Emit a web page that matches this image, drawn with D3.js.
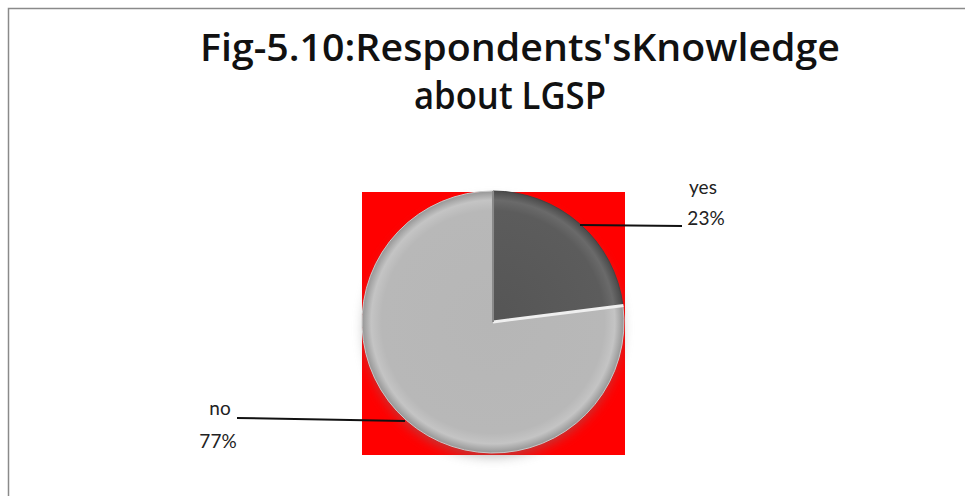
<!DOCTYPE html>
<html><head><meta charset="utf-8">
<script src="https://cdn.jsdelivr.net/npm/d3@7"></script>
<style>html,body{margin:0;padding:0;background:#fff;}</style>
</head><body>
<script>
const titleLines = ["Fig-5.10:Respondents'sKnowledge", "about LGSP"];
const categories = ["yes", "no"];
const values = [23, 77];
const percentLabels = ["23%", "77%"];

const W = 965, H = 496;
const svg = d3.select("body").append("svg").attr("width", W).attr("height", H);
const defs = svg.append("defs");

// border
svg.append("rect").attr("x", 8.5).attr("y", 8.5).attr("width", W).attr("height", H)
  .attr("fill", "#fff").attr("stroke", "#8a8a8a").attr("stroke-width", 1.5);

// title
svg.append("text").attr("x", 520).attr("y", 61).attr("text-anchor", "middle")
  .attr("font-family", "Open Sans, sans-serif").attr("font-weight", 600).attr("font-size", 37)
  .attr("textLength", 640).attr("lengthAdjust", "spacingAndGlyphs")
  .attr("fill", "#111").text(titleLines[0]);
svg.append("text").attr("x", 510).attr("y", 109).attr("text-anchor", "middle")
  .attr("font-family", "Open Sans, sans-serif").attr("font-weight", 600).attr("font-size", 37)
  .attr("textLength", 192).attr("lengthAdjust", "spacingAndGlyphs")
  .attr("fill", "#111").text(titleLines[1]);

const cx = 493, cy = 322, r = 131;

// shadow filter
const f = defs.append("filter").attr("id", "shadow").attr("x", "-20%").attr("y", "-20%").attr("width", "140%").attr("height", "150%");
f.append("feGaussianBlur").attr("in", "SourceGraphic").attr("stdDeviation", 6);

// gradients (in the pie group's local coordinates)
function grad(id, stops) {
  const g = defs.append("radialGradient").attr("id", id)
    .attr("gradientUnits", "userSpaceOnUse").attr("cx", 0).attr("cy", 0).attr("r", r);
  stops.forEach(s => g.append("stop").attr("offset", s[0]).attr("stop-color", s[1]));
}
grad("gYes", [["0%", "#555"], ["85%", "#5c5c5c"], ["93%", "#6a6a6a"], ["100%", "#4a4a4a"]]);
grad("gNo", [["0%", "#b6b6b6"], ["85%", "#b8b8b8"], ["93%", "#c4c4c4"], ["100%", "#969696"]]);

// red plot area (square)
svg.append("rect").attr("x", 362).attr("y", 192).attr("width", 263).attr("height", 263).attr("fill", "#ff0000");

const pie = d3.pie().sort(null).value(d => d)(values);
const arc = d3.arc().innerRadius(0).outerRadius(r);
const g = svg.append("g").attr("transform", `translate(${cx},${cy})`);
g.append("circle").attr("cy", 6).attr("r", r - 2).attr("fill", "#7a7a7a").attr("filter", "url(#shadow)").attr("opacity", 0.5);
g.selectAll("path.slice").data(pie).enter().append("path").attr("class", "slice")
  .attr("d", arc).attr("fill", (d, i) => i === 0 ? "url(#gYes)" : "url(#gNo)")
  .attr("stroke", (d, i) => i === 0 ? "#444" : "#c9c9c9").attr("stroke-width", 1)
  .attr("stroke-linejoin", "round");
// bevel highlight along the separating edge
const sepEnd = d3.arc().innerRadius(0).outerRadius(r - 1);
g.append("path").attr("d", sepEnd({startAngle: pie[1].startAngle, endAngle: pie[1].startAngle + 0.0005}))
  .attr("fill", "none").attr("stroke", "#efefef").attr("stroke-width", 3);
g.append("path").attr("d", sepEnd({startAngle: 0, endAngle: 0.0005}))
  .attr("fill", "none").attr("stroke", "#8a8a8a").attr("stroke-width", 2);

// labels & leader lines
const labelSpec = [
  {line: [[580, 225], [682, 226]], name: [703, 194], pct: [706, 225]},
  {line: [[237, 418], [405, 421]], name: [220, 415], pct: [218, 448]}
];
labelSpec.forEach((s, i) => {
  svg.append("path").attr("d", d3.line()(s.line)).attr("stroke", "#111").attr("stroke-width", 2).attr("fill", "none");
  svg.append("text").attr("x", s.name[0]).attr("y", s.name[1]).attr("text-anchor", "middle")
    .attr("font-family", "Lato, sans-serif").attr("font-size", 19).attr("fill", "#222").text(categories[i]);
  svg.append("text").attr("x", s.pct[0]).attr("y", s.pct[1]).attr("text-anchor", "middle")
    .attr("font-family", "Lato, sans-serif").attr("font-size", 19).attr("fill", "#222").text(percentLabels[i]);
});
</script>
</body></html>
